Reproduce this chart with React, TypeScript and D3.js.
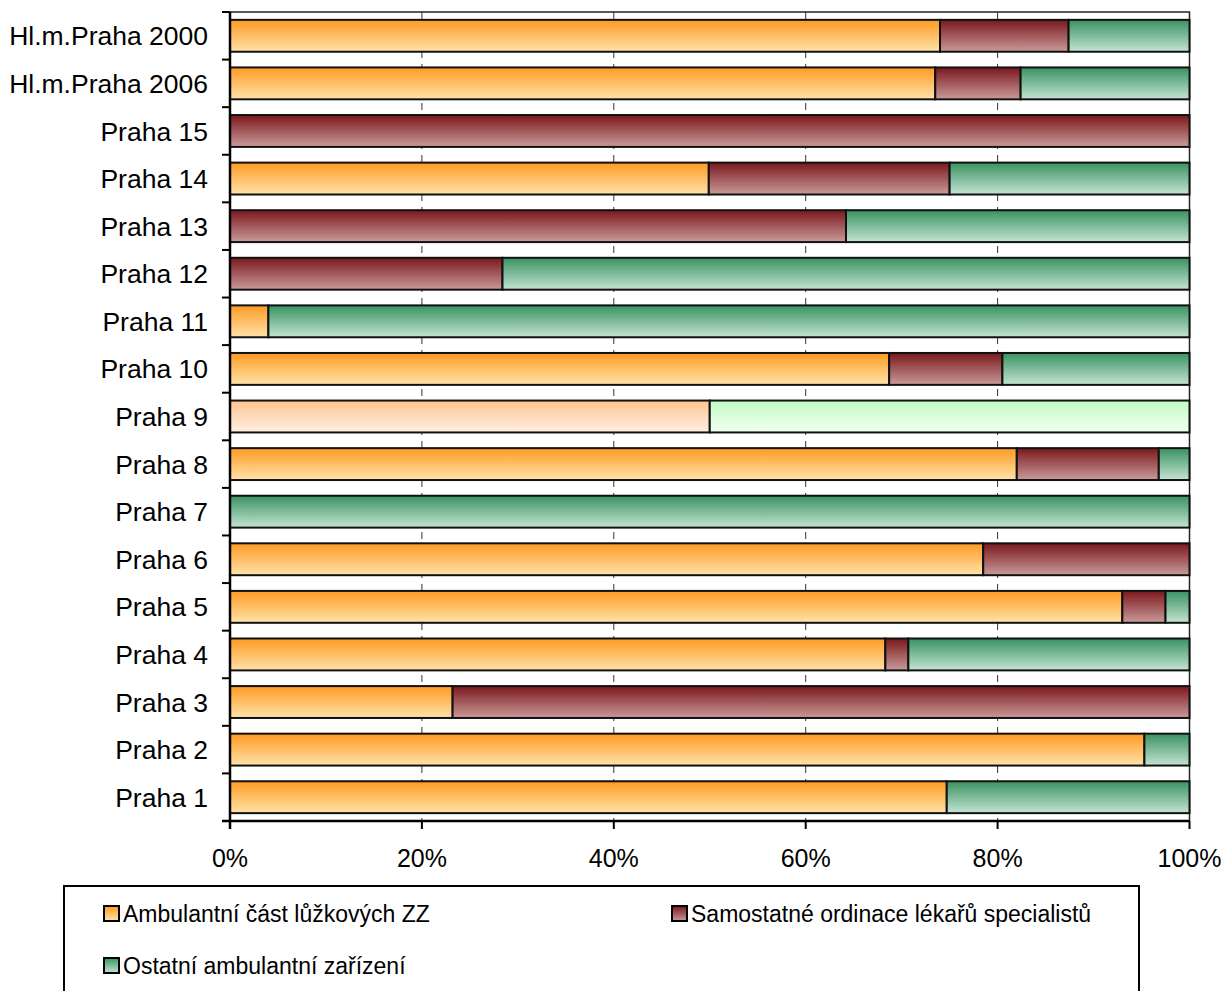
import React from "react";
import * as d3 from "d3";

const categories = [
  "Hl.m.Praha 2000", "Hl.m.Praha 2006", "Praha 15", "Praha 14", "Praha 13", "Praha 12",
  "Praha 11", "Praha 10", "Praha 9", "Praha 8", "Praha 7", "Praha 6", "Praha 5",
  "Praha 4", "Praha 3", "Praha 2", "Praha 1",
];
const ambulantni = [74.0, 73.5, 0, 49.9, 0, 0, 4.0, 68.7, 50.0, 82.0, 0, 78.5, 93.0, 68.3, 23.2, 95.3, 74.7];
const samostatne = [13.4, 8.9, 100, 25.1, 64.2, 28.4, 0, 11.8, 0, 14.8, 0, 21.5, 4.5, 2.4, 76.8, 0, 0];
const ostatni = [12.6, 17.6, 0, 25.0, 35.8, 71.6, 96.0, 19.5, 50.0, 3.2, 100, 0, 2.5, 29.3, 0, 4.7, 25.3];
const seriesNames = ["Ambulantní část lůžkových ZZ", "Samostatné ordinace lékařů specialistů", "Ostatní ambulantní zařízení"];
const xTicks = [0, 20, 40, 60, 80, 100];
const lightCategory = "Praha 9";

const gradients = [
  { id: "g0", top: "#ff9a22", bottom: "#ffe3aa" },
  { id: "g1", top: "#7a181c", bottom: "#ca9a9a" },
  { id: "g2", top: "#3a9262", bottom: "#c4e4d2" },
];
const lightGradients = [
  { id: "l0", top: "#ffc48e", bottom: "#fff0e4" },
  { id: "l1", top: "#b0676a", bottom: "#ead6d6" },
  { id: "l2", top: "#c2fcc2", bottom: "#f2fff2" },
];

const FONT = "'Liberation Sans', Arial, sans-serif";

export default function App() {
  const W = 1226, H = 991;
  const left = 230, right = 1189.5, top = 12, bottom = 821;
  const x = d3.scaleLinear().domain([0, 100]).range([left, right]);
  const y = d3.scaleBand<string>().domain(categories).range([top, bottom]).paddingInner(0.33).paddingOuter(0.165);
  const step = y.step();
  const stack = d3.stack<number>().keys(["0", "1", "2"]).value((i, k) => [ambulantni, samostatne, ostatni][+k][i]);
  const stacked = stack(categories.map((_, i) => i));

  return (
    <svg width={W} height={H} style={{ position: "absolute", left: 0, top: 0, display: "block" }}>
      <defs>
        {[...gradients, ...lightGradients].map((g) => (
          <linearGradient key={g.id} id={g.id} x1="0" y1="0" x2="0" y2="1">
            <stop offset="0" stopColor={g.top} />
            <stop offset="1" stopColor={g.bottom} />
          </linearGradient>
        ))}
      </defs>
      <rect x={0} y={0} width={W} height={H} fill="#fff" />
      {xTicks.slice(1, -1).map((t) => (
        <line key={t} x1={x(t)} x2={x(t)} y1={top} y2={bottom} stroke="#333" strokeWidth={1} strokeDasharray="7 6" />
      ))}
      <rect x={left} y={top} width={right - left} height={bottom - top} fill="none" stroke="#222" strokeWidth={1.5} />
      {stacked.map((s, si) =>
        s.map((d, i) => {
          const w = x(d[1]) - x(d[0]);
          if (w <= 0.01) return null;
          const light = categories[i] === lightCategory;
          return (
            <rect key={si + "-" + i} x={x(d[0])} y={y(categories[i])!} width={w} height={y.bandwidth()}
              fill={`url(#${light ? lightGradients[si].id : gradients[si].id})`} stroke="#111" strokeWidth={2} />
          );
        })
      )}
      <line x1={left} x2={left} y1={top} y2={bottom + 8} stroke="#000" strokeWidth={2.5} />
      <line x1={left - 8} x2={right} y1={bottom} y2={bottom} stroke="#000" strokeWidth={2.5} />
      {d3.range(categories.length + 1).map((i) => (
        <line key={i} x1={left - 8} x2={left} y1={top + i * step} y2={top + i * step} stroke="#000" strokeWidth={2} />
      ))}
      {xTicks.map((t) => (
        <g key={t}>
          <line x1={x(t)} x2={x(t)} y1={bottom} y2={bottom + 8} stroke="#000" strokeWidth={2} />
          <text x={x(t)} y={bottom + 46} textAnchor="middle" fontFamily={FONT} fontSize={25} fill="#000">{t}%</text>
        </g>
      ))}
      {categories.map((c) => (
        <text key={c} x={208} y={y(c)! + y.bandwidth() / 2} dy="0.36em" textAnchor="end" fontFamily={FONT} fontSize={26.5} fill="#000">{c}</text>
      ))}
      <rect x={64} y={886} width={1075} height={120} fill="#fff" stroke="#000" strokeWidth={2} />
      {seriesNames.map((n, i) => {
        const lx = i === 1 ? 672 : 104;
        const ly = i === 2 ? 966 : 914;
        return (
          <g key={n}>
            <rect x={lx} y={ly - 8} width={15} height={15} fill={`url(#${gradients[i].id})`} stroke="#000" strokeWidth={2} />
            <text x={lx + 19} y={ly} dy="0.36em" fontFamily={FONT} fontSize={23} fill="#000">{n}</text>
          </g>
        );
      })}
    </svg>
  );
}
